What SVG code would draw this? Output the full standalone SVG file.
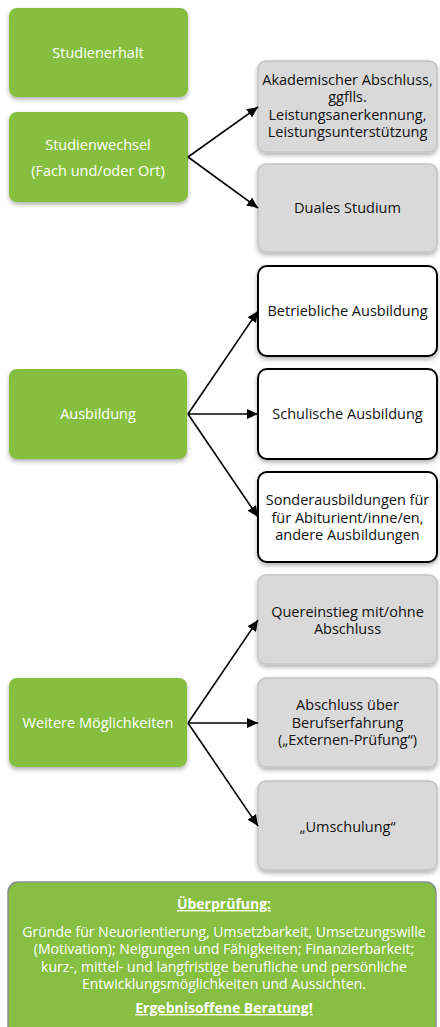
<svg xmlns="http://www.w3.org/2000/svg" width="440" height="1027" viewBox="0 0 440 1027">
  <defs>
    <filter id="sh" x="-10%" y="-10%" width="125%" height="130%">
      <feDropShadow dx="0" dy="2.5" stdDeviation="2" flood-color="#000" flood-opacity="0.3"/>
    </filter>
    <marker id="ah" markerWidth="12" markerHeight="10" refX="11" refY="5" orient="auto" markerUnits="userSpaceOnUse">
      <path d="M0,0 L11,5 L0,10 Z" fill="#000"/>
    </marker>
  </defs>
  <style>
    .g { fill: #86bf41; }
    .gr { fill: #d9d9d9; stroke: #c4c4c4; stroke-width: 1.5; }
    .w { fill: #ffffff; stroke: #000000; stroke-width: 2; }
    .bt { fill: #86bf41; stroke: #8c8c8c; stroke-width: 1.5; }
    text { font-family: "Open Sans", "Liberation Sans", sans-serif; font-size: 14.5px; text-anchor: middle; }
    .sm { font-size: 14px; }
    .wt { fill: #ffffff; }
    .bk { fill: #111111; }
    .c { stroke: #000; stroke-width: 1.6; fill: none; marker-end: url(#ah); }
  </style>
  <rect width="440" height="1027" fill="#ffffff"/>

  <g id="studienerhalt">
    <rect class="g" x="9" y="8" width="179" height="89" rx="8" filter="url(#sh)"/>
    <text class="wt" x="98" y="58">Studienerhalt</text>
  </g>
  <g id="studienwechsel">
    <rect class="g" x="9" y="112" width="179" height="90" rx="8" filter="url(#sh)"/>
    <text class="wt" x="98" y="150">Studienwechsel</text>
    <text class="wt" x="98" y="176">(Fach und/oder Ort)</text>
  </g>
  <g id="akademisch">
    <rect class="gr" x="258" y="61" width="179" height="91" rx="8" filter="url(#sh)"/>
    <text class="bk" x="347.5" y="85">Akademischer Abschluss,</text>
    <text class="bk" x="347.5" y="102">ggflls.</text>
    <text class="bk" x="347.5" y="120">Leistungsanerkennung,</text>
    <text class="bk" x="347.5" y="137">Leistungsunterstützung</text>
  </g>
  <g id="dual">
    <rect class="gr" x="258" y="164" width="179" height="88" rx="8" filter="url(#sh)"/>
    <text class="bk" x="347.5" y="213">Duales Studium</text>
  </g>

  <g id="ausbildung">
    <rect class="g" x="9" y="369" width="178" height="90" rx="8" filter="url(#sh)"/>
    <text class="wt" x="98" y="419">Ausbildung</text>
  </g>
  <g id="betrieblich">
    <rect class="w" x="258" y="266" width="179" height="90" rx="9" filter="url(#sh)"/>
    <text class="bk" x="347.5" y="316">Betriebliche Ausbildung</text>
  </g>
  <g id="schulisch">
    <rect class="w" x="258" y="369" width="179" height="90" rx="9" filter="url(#sh)"/>
    <text class="bk" x="347.5" y="419">Schulische Ausbildung</text>
  </g>
  <g id="sonder">
    <rect class="w" x="258" y="472" width="179" height="90" rx="9" filter="url(#sh)"/>
    <text class="bk" x="347.5" y="505">Sonderausbildungen für</text>
    <text class="bk" x="347.5" y="523">für Abiturient/inne/en,</text>
    <text class="bk" x="347.5" y="540">andere Ausbildungen</text>
  </g>

  <g id="weitere">
    <rect class="g" x="9" y="678" width="178" height="89" rx="8" filter="url(#sh)"/>
    <text class="wt" x="98" y="728">Weitere Möglichkeiten</text>
  </g>
  <g id="quereinstieg">
    <rect class="gr" x="258" y="575" width="179" height="89" rx="8" filter="url(#sh)"/>
    <text class="bk" x="347.5" y="617">Quereinstieg mit/ohne</text>
    <text class="bk" x="347.5" y="634">Abschluss</text>
  </g>
  <g id="externen">
    <rect class="gr" x="258" y="678" width="179" height="89" rx="8" filter="url(#sh)"/>
    <text class="bk" x="347.5" y="710">Abschluss über</text>
    <text class="bk" x="347.5" y="728">Berufserfahrung</text>
    <text class="bk" x="347.5" y="745">(„Externen-Prüfung“)</text>
  </g>
  <g id="umschulung">
    <rect class="gr" x="258" y="781" width="179" height="89" rx="8" filter="url(#sh)"/>
    <text class="bk" x="347.5" y="832">„Umschulung“</text>
  </g>

  <g id="ueberpruefung">
    <rect class="bt" x="8" y="882" width="428" height="160" rx="10"/>
    <text class="wt sm" x="224" y="909" font-weight="bold" text-decoration="underline">Überprüfung:</text>
    <text class="wt sm" x="224" y="937">Gründe für Neuorientierung, Umsetzbarkeit, Umsetzungswille</text>
    <text class="wt sm" x="224" y="954">(Motivation); Neigungen und Fähigkeiten; Finanzierbarkeit;</text>
    <text class="wt sm" x="224" y="972">kurz-, mittel- und langfristige berufliche und persönliche</text>
    <text class="wt sm" x="224" y="989">Entwicklungsmöglichkeiten und Aussichten.</text>
    <text class="wt sm" x="224" y="1013" font-weight="bold" text-decoration="underline">Ergebnisoffene Beratung!</text>
  </g>

  <g id="connectors">
    <line class="c" x1="188" y1="157" x2="258" y2="107"/>
    <line class="c" x1="188" y1="157" x2="258" y2="208"/>
    <line class="c" x1="188" y1="414" x2="258" y2="311"/>
    <line class="c" x1="188" y1="414" x2="258" y2="414"/>
    <line class="c" x1="188" y1="414" x2="258" y2="517"/>
    <line class="c" x1="188" y1="723" x2="258" y2="620"/>
    <line class="c" x1="188" y1="723" x2="258" y2="723"/>
    <line class="c" x1="188" y1="723" x2="258" y2="826"/>
  </g>
</svg>
